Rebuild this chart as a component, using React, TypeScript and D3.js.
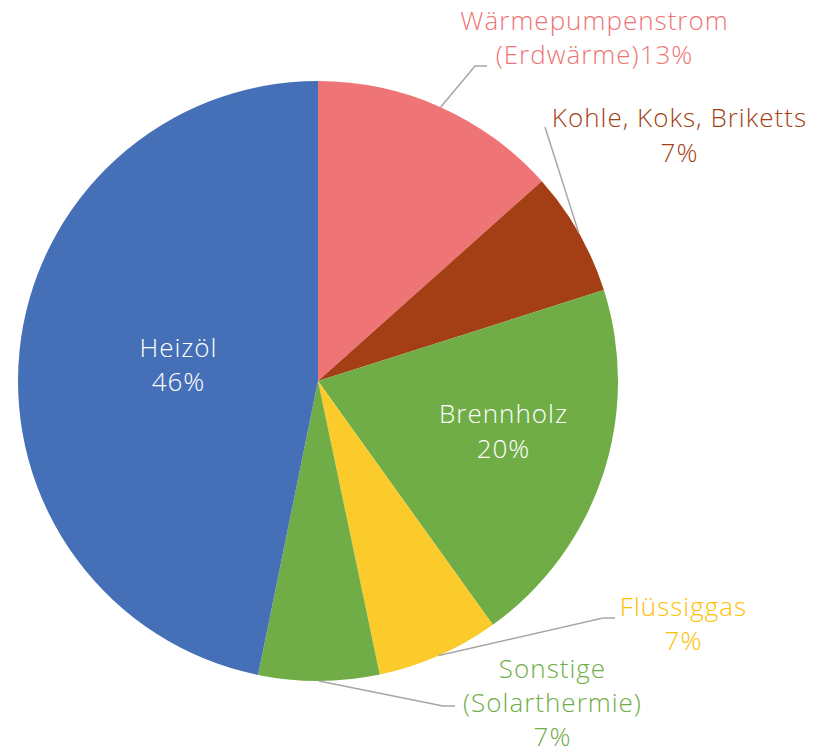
import React from "react";
import * as d3 from "d3";

const categories = ["Wärmepumpenstrom (Erdwärme)", "Kohle, Koks, Briketts", "Brennholz", "Flüssiggas", "Sonstige (Solarthermie)", "Heizöl"];
const values = [13.4, 6.7, 20.0, 6.6, 6.5, 46.8];
const percentLabels = ["13%", "7%", "20%", "7%", "7%", "46%"];
const sliceColors = ["#EE7475", "#A43F15", "#70AD47", "#FBCB2B", "#70AD47", "#4570B7"];
const textColors = ["#EE7475", "#A43F15", "#FFFFFF", "#FFC000", "#70AD47", "#FFFFFF"];

const labelLines = [
  ["Wärmepumpenstrom", "(Erdwärme)13%"],
  ["Kohle, Koks, Briketts", "7%"],
  ["Brennholz", "20%"],
  ["Flüssiggas", "7%"],
  ["Sonstige", "(Solarthermie)", "7%"],
  ["Heizöl", "46%"],
];

export default function App() {
  const W = 813, H = 755;
  const cx = 318, cy = 381, r = 300;
  const pie = d3.pie<number>().sort(null).value((d) => d)(values);
  const arc = d3.arc<d3.PieArcDatum<number>>().innerRadius(0).outerRadius(r);
  const edge = (d: d3.PieArcDatum<number>) => {
    const a = (d.startAngle + d.endAngle) / 2;
    return [cx + r * Math.sin(a), cy - r * Math.cos(a)];
  };
  const labelPos: { x: number; y: number; lh: number }[] = [
    { x: 594, y: 30, lh: 34 },
    { x: 679, y: 127, lh: 35 },
    { x: 503, y: 423, lh: 35 },
    { x: 683, y: 616, lh: 34 },
    { x: 552, y: 678, lh: 34 },
    { x: 178, y: 357, lh: 34 },
  ];
  const leaders: ([number, number][] | null)[] = [
    [[475, 66], [487, 66]],
    [[545, 127]],
    null,
    [[603, 618], [615, 618]],
    [[443, 706], [455, 706]],
    null,
  ];
  return (
    <svg width={W} height={H} style={{ position: "absolute", left: 0, top: 0, background: "#fff" }}
      fontFamily="'Open Sans', 'Noto Sans', sans-serif">
      <g transform={`translate(${cx},${cy})`}>
        {pie.map((d, i) => (
          <path key={i} d={arc(d) || ""} fill={sliceColors[i]} />
        ))}
      </g>
      {pie.map((d, i) => {
        const l = leaders[i];
        if (!l) return null;
        const pts = [edge(d), ...l];
        return (
          <polyline key={"l" + i} points={pts.map((p) => p.join(",")).join(" ")}
            fill="none" stroke="#A6A6A6" strokeWidth={1.5} />
        );
      })}
      {labelLines.map((lines, i) => (
        <text key={"t" + i} textAnchor="middle" fill={textColors[i]} fontSize={26} fontWeight={300} letterSpacing={1}>
          {lines.map((s, j) => (
            <tspan key={j} x={labelPos[i].x + 0.5} y={labelPos[i].y + j * labelPos[i].lh}>{s}</tspan>
          ))}
        </text>
      ))}
    </svg>
  );
}
